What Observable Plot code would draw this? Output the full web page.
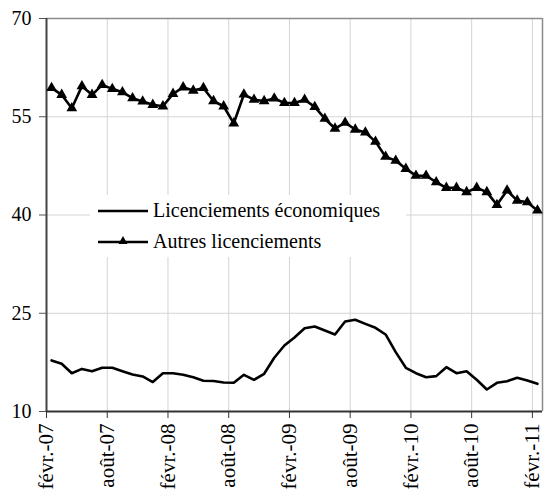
<!DOCTYPE html>
<html>
<head>
<meta charset="utf-8">
<script src="https://cdn.jsdelivr.net/npm/d3@7"></script>
<script src="https://cdn.jsdelivr.net/npm/@observablehq/plot@0.6"></script>
<style>
  html, body { margin: 0; padding: 0; background: #fff; }
  #wrap { position: relative; width: 544px; height: 497px; font-family: "Liberation Serif", "Times New Roman", serif; }
  #legend { position: absolute; left: 90px; top: 195px; width: 316px; height: 62px; background: #fff; }
  .item { position: absolute; left: 8px; display: flex; align-items: center; font-size: 20px; color: #000; white-space: nowrap; }
  .item svg { margin-right: 5px; }
</style>
</head>
<body>
<div id="wrap"><div id="legend"></div></div>
<script>
// Series names
const seriesNames = ["Licenciements économiques", "Autres licenciements"];
// X tick labels (every 6 months, Feb 2007 – Feb 2011)
const tickLabels = ["févr.-07","août-07","févr.-08","août-08","févr.-09","août-09","févr.-10","août-10","févr.-11"];
// Y ticks
const yTicks = [10, 25, 40, 55, 70];
// Monthly values, Feb 2007 .. Feb 2011 (49 months)
const economiques = [17.8,17.3,15.85,16.5,16.15,16.67,16.67,16.15,15.65,15.35,
  14.5,15.85,15.85,15.6,15.24,14.7,14.65,14.43,14.4,15.6,
  14.84,15.76,18.2,20.08,21.3,22.7,22.98,22.37,21.76,23.74,
  24.0,23.38,22.78,21.76,19.06,16.67,15.85,15.24,15.4,16.77,
  15.85,16.15,14.84,13.36,14.38,14.63,15.14,14.73,14.22];
const autres = [59.4,58.35,56.3,59.67,58.35,59.87,59.26,58.75,57.84,57.33,
  56.82,56.6,58.5,59.5,59.0,59.4,57.4,56.6,54.0,58.4,
  57.6,57.4,57.8,57.1,57.1,57.6,56.5,54.7,53.2,54.1,
  53.05,52.6,51.2,48.9,48.3,47.05,46.0,46.0,45.0,44.15,
  44.15,43.5,44.15,43.5,41.55,43.75,42.2,41.96,40.7];

const ecoData = economiques.map((v, i) => ({i, v}));
const autData = autres.map((v, i) => ({i, v}));
const n = economiques.length;
const tickPos = tickLabels.map((_, k) => k * 6 - 0.5);

const chart = Plot.plot({
  width: 544,
  height: 497,
  marginLeft: 46,
  marginRight: 2,
  marginTop: 18,
  marginBottom: 86,
  style: {fontFamily: "'Liberation Serif', 'Times New Roman', serif", fontSize: "20px", color: "#000", background: "#fff"},
  x: {domain: [-0.5, n - 0.5]},
  y: {domain: [10, 70]},
  marks: [
    Plot.ruleY(yTicks.filter(d => d > 10 && d < 70), {stroke: "#d4d4d4", strokeWidth: 1}),
    Plot.ruleX(tickPos.slice(1), {stroke: "#d4d4d4", strokeWidth: 1}),
    Plot.ruleY([70], {stroke: "#8c8c8c", strokeWidth: 1.5}),
    Plot.ruleX([n - 0.5], {stroke: "#8c8c8c", strokeWidth: 1.5}),
    Plot.axisY({ticks: yTicks, label: null, tickSize: 7, tickPadding: 8, tickFormat: d => String(d), stroke: "#555", fontSize: 20}),
    Plot.axisX({ticks: tickPos, label: null, tickSize: 7, tickPadding: 5, tickRotate: -90, tickFormat: (d, k) => tickLabels[k], stroke: "#333", fontSize: 21}),
    Plot.ruleX([-0.5], {stroke: "#444", strokeWidth: 2}),
    Plot.ruleY([10], {stroke: "#333", strokeWidth: 2}),
    Plot.line(ecoData, {x: "i", y: "v", stroke: "#000", strokeWidth: 2.6, strokeLinejoin: "round"}),
    Plot.line(autData, {x: "i", y: "v", stroke: "#000", strokeWidth: 2.6, strokeLinejoin: "round"}),
    Plot.dot(autData, {x: "i", y: "v", symbol: "triangle", r: 4, fill: "#000", stroke: "none"})
  ]
});
document.getElementById("wrap").insertBefore(chart, document.getElementById("legend"));

const legend = document.getElementById("legend");
seriesNames.forEach((name, k) => {
  const item = document.createElement("div");
  item.className = "item";
  item.style.top = (k === 0 ? 4 : 35) + "px";
  const marker = k === 1 ? '<path d="M25,4 L29.5,12 L20.5,12 Z" fill="#000"/>' : '';
  item.innerHTML = '<svg width="50" height="20"><line x1="0" y1="10" x2="50" y2="10" stroke="#000" stroke-width="2.6"/>' + marker + '</svg><span>' + name + '</span>';
  legend.appendChild(item);
});
</script>
</body>
</html>
